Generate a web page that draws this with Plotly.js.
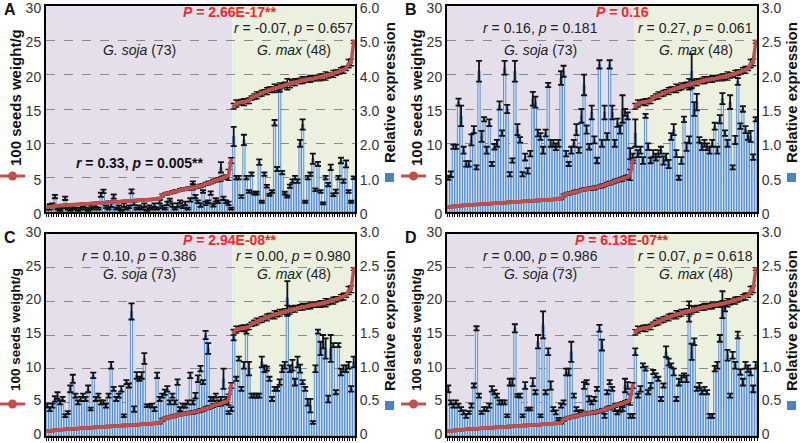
<!DOCTYPE html>
<html>
<head>
<meta charset="utf-8">
<script src="https://cdn.plot.ly/plotly-3.0.1.min.js"></script>
<style>
  body { margin: 0; background: #fff; }
  #plot { width: 800px; height: 443px; }
</style>
</head>
<body>
<div id="plot"></div>
<script>
// ---- 百粒重 (g), 野生豆 G. soja 73 份, 栽培豆 G. max 48 份, 各自由小到大排序 ----
const sojaWeight = [0.7,0.78,0.8,0.86,0.9,0.93,0.95,0.99,1.0,1.03,
  1.06,1.08,1.1,1.14,1.15,1.18,1.21,1.22,1.26,1.28,
  1.3,1.34,1.35,1.38,1.41,1.43,1.46,1.48,1.5,1.54,
  1.55,1.58,1.61,1.63,1.66,1.68,1.7,1.74,1.75,1.79,
  1.8,1.84,1.86,1.9,1.96,
  2.4,2.6,2.7,2.8,2.9,3.0,3.1,3.2,3.3,3.35,
  3.4,3.45,3.5,3.6,3.7,3.8,3.9,4.1,4.2,4.3,
  4.5,4.6,4.7,4.8,5.0,5.1,5.4,7.5];
const sojaWeightErr = [0.1,0.1,0.15,0.1,0.1,0.12,0.1,0.1,0.15,0.1,
  0.1,0.12,0.1,0.1,0.15,0.1,0.12,0.1,0.1,0.15,
  0.1,0.1,0.12,0.1,0.15,0.1,0.1,0.12,0.1,0.1,
  0.15,0.1,0.12,0.1,0.1,0.15,0.1,0.12,0.1,0.1,
  0.15,0.1,0.12,0.1,0.15,
  0.2,0.15,0.2,0.15,0.2,0.2,0.15,0.2,0.2,0.15,
  0.2,0.2,0.25,0.2,0.2,0.25,0.2,0.2,0.25,0.2,
  0.25,0.2,0.25,0.3,0.25,0.3,0.8,0.4];
const maxWeight = [15.4,15.8,15.9,16.0,16.0,16.1,16.2,16.6,16.8,17.0,
  17.1,17.3,17.5,17.6,17.8,17.9,18.0,18.1,18.3,18.4,
  18.5,18.6,18.7,18.8,18.9,19.0,19.1,19.2,19.2,19.3,
  19.4,19.4,19.5,19.6,19.6,19.7,19.8,19.9,20.0,20.1,
  20.3,20.4,20.6,20.7,20.9,21.6,21.8,24.8];
const maxWeightErr = [0.4,0.5,0.3,0.4,0.5,0.3,0.4,0.3,0.4,0.5,
  0.3,0.4,0.3,0.5,0.4,0.3,0.6,0.4,0.5,0.3,
  0.4,0.8,0.6,0.4,0.5,0.3,0.4,0.5,0.3,0.4,
  0.5,0.3,0.4,0.3,0.5,0.4,0.6,0.4,0.3,0.5,
  0.4,0.3,0.4,0.5,0.3,0.6,0.5,0.2];

// ---- 相對表現量 (四個基因, A-D) ----
const exprSojaA = [0.1,0.15,0.2,0.45,0.1,0.05,0.15,0.4,0.1,0.05,
  0.15,0.1,0.05,0.1,0.2,0.1,0.05,0.15,0.1,0.2,
  0.1,0.5,0.6,0.15,0.1,0.2,0.45,0.1,0.15,0.05,
  0.2,0.1,0.15,0.6,0.25,0.1,0.15,0.1,0.2,0.05,
  0.15,0.1,0.2,0.1,0.3,0.15,0.1,0.25,0.35,0.2,
  0.1,0.2,0.3,0.15,0.25,0.1,0.35,0.85,0.45,0.3,
  0.2,0.6,0.25,0.3,0.55,0.2,0.35,0.3,1.3,0.4,
  0.3,0.25,0.1];
const errSojaA = [0.03,0.08,0.05,0.05,0.03,0.02,0.04,0.05,0.03,0.02,
  0.04,0.03,0.02,0.03,0.05,0.03,0.02,0.04,0.03,0.05,
  0.03,0.06,0.05,0.04,0.03,0.05,0.06,0.03,0.04,0.02,
  0.05,0.03,0.04,0.06,0.05,0.03,0.04,0.03,0.05,0.02,
  0.04,0.03,0.05,0.03,0.05,0.04,0.03,0.05,0.04,0.05,
  0.03,0.05,0.04,0.04,0.05,0.03,0.05,0.04,0.05,0.04,
  0.05,0.04,0.05,0.04,0.05,0.04,0.05,0.04,0.15,0.05,
  0.04,0.05,0.03];
const exprMaxA = [2.2,1.0,1.0,0.45,2.1,1.0,0.6,1.1,0.55,0.55,
  1.45,0.3,1.1,0.75,0.5,0.6,2.6,1.25,3.6,1.15,
  0.55,0.45,0.75,0.9,1.0,0.9,2.0,2.55,0.3,1.0,
  1.1,1.55,0.65,1.4,0.6,0.25,1.0,0.8,1.3,0.5,
  0.6,1.0,1.5,0.9,1.4,0.6,0.3,1.0];
const errMaxA = [0.28,0.05,0.05,0.04,0.15,0.05,0.04,0.05,0.04,0.04,
  0.08,0.03,0.05,0.04,0.03,0.04,0.08,0.06,0.1,0.05,
  0.04,0.03,0.05,0.05,0.05,0.05,0.1,0.15,0.03,0.05,
  0.05,0.15,0.04,0.06,0.04,0.03,0.05,0.05,0.08,0.04,
  0.05,0.05,0.08,0.05,0.1,0.04,0.03,0.04];

const exprSojaB = [0.5,0.55,0.95,0.95,1.6,1.4,0.9,0.7,0.7,1.05,
  1.2,0.65,2.05,1.1,1.35,0.9,1.3,0.7,0.95,1.0,
  1.55,1.15,2.1,1.5,0.55,0.75,2.05,1.2,1.05,0.55,
  0.8,0.6,0.85,1.65,1.6,1.15,1.1,0.9,1.15,1.85,
  1.0,1.0,0.95,1.0,1.95,2.05,0.85,0.7,0.9,1.0,
  1.2,0.9,1.4,1.85,1.2,0.95,1.45,1.05,0.75,2.15,
  1.0,1.45,1.1,2.15,1.45,1.0,1.3,1.2,1.5,1.45,
  1.4,0.85,0.8];
const errSojaB = [0.03,0.04,0.03,0.03,0.05,0.15,0.05,0.04,0.04,0.08,
  0.05,0.03,0.15,0.08,0.03,0.05,0.05,0.03,0.04,0.05,
  0.06,0.04,0.1,0.06,0.03,0.03,0.15,0.08,0.04,0.03,
  0.05,0.04,0.04,0.1,0.08,0.05,0.05,0.05,0.05,0.03,
  0.05,0.05,0.05,0.05,0.1,0.08,0.04,0.03,0.05,0.05,
  0.08,0.04,0.1,0.15,0.06,0.04,0.1,0.05,0.04,0.06,
  0.05,0.1,0.05,0.06,0.1,0.05,0.06,0.06,0.2,0.05,
  0.05,0.08,0.05];
const exprMaxB = [1.15,0.85,0.9,0.75,1.4,0.95,0.75,0.85,0.8,0.85,
  0.9,0.75,0.8,0.7,1.1,1.2,0.85,0.5,0.75,1.35,
  0.95,1.05,2.05,1.5,1.6,1.05,0.95,1.0,0.95,0.9,
  1.0,1.25,0.9,1.35,1.65,1.15,1.0,1.6,0.65,1.05,
  1.9,1.25,1.5,1.2,1.1,1.1,0.8,1.35];
const errMaxB = [0.2,0.05,0.05,0.05,0.03,0.05,0.04,0.05,0.05,0.05,
  0.05,0.06,0.05,0.06,0.05,0.08,0.05,0.03,0.05,0.04,
  0.06,0.05,0.25,0.1,0.12,0.04,0.05,0.05,0.05,0.05,
  0.05,0.05,0.05,0.06,0.08,0.04,0.05,0.1,0.03,0.06,
  0.05,0.04,0.04,0.05,0.05,0.08,0.04,0.03];

const exprSojaC = [0.45,0.4,0.45,0.55,0.6,0.5,0.55,0.3,0.35,0.7,
  0.85,0.6,0.5,0.55,0.6,0.55,0.7,0.4,0.9,0.55,
  0.6,0.5,0.5,0.45,0.6,1.05,0.7,0.55,0.6,0.7,
  0.3,0.8,0.75,1.85,0.4,0.9,0.85,0.9,1.15,0.45,
  0.45,0.45,0.4,0.9,0.55,0.6,0.65,0.7,0.5,0.6,
  0.5,0.8,0.4,0.45,0.45,0.5,0.9,0.5,0.6,0.85,
  1.0,0.8,1.5,1.3,0.55,0.55,0.6,0.5,0.55,0.85,
  0.55,0.35,0.4];
const errSojaC = [0.03,0.03,0.03,0.04,0.05,0.03,0.03,0.02,0.02,0.05,
  0.06,0.03,0.03,0.03,0.03,0.03,0.05,0.02,0.04,0.03,
  0.03,0.03,0.03,0.03,0.03,0.05,0.03,0.03,0.03,0.04,
  0.02,0.03,0.03,0.12,0.04,0.05,0.03,0.05,0.08,0.02,
  0.02,0.03,0.03,0.04,0.03,0.03,0.04,0.04,0.03,0.03,
  0.03,0.04,0.03,0.03,0.03,0.03,0.04,0.03,0.04,0.05,
  0.04,0.03,0.06,0.08,0.03,0.03,0.03,0.03,0.03,0.15,
  0.03,0.02,0.03];
const exprMaxC = [1.5,0.85,1.15,0.7,1.05,1.55,1.0,0.6,0.6,0.6,
  0.6,1.1,1.0,1.0,0.85,0.55,0.7,0.7,0.8,1.0,
  1.05,2.05,1.0,1.05,0.8,1.1,1.0,0.8,0.7,0.5,
  0.45,0.2,1.0,1.55,1.3,1.4,1.3,0.55,1.3,1.35,
  0.65,1.35,0.95,1.0,1.0,1.05,0.7,1.1];
const errMaxC = [0.08,0.03,0.03,0.03,0.05,0.03,0.1,0.03,0.03,0.03,
  0.03,0.08,0.05,0.03,0.03,0.03,0.03,0.03,0.04,0.05,
  0.05,0.25,0.05,0.08,0.05,0.08,0.06,0.03,0.03,0.05,
  0.1,0.02,0.05,0.03,0.1,0.1,0.15,0.05,0.2,0.03,
  0.03,0.03,0.05,0.05,0.05,0.05,0.04,0.08];

const exprSojaD = [0.7,0.5,0.45,0.5,0.45,0.4,0.35,0.3,0.35,0.45,
  0.75,1.6,0.6,0.35,0.4,0.4,0.45,0.7,0.65,0.6,
  0.5,0.5,0.5,0.3,0.8,0.8,1.6,0.6,0.6,0.3,
  0.75,0.4,0.4,0.8,0.65,1.4,0.3,1.65,0.65,1.25,
  0.75,0.4,0.35,0.25,0.45,0.5,0.95,0.95,1.25,0.6,
  0.4,0.35,0.35,0.75,0.8,0.55,0.5,0.55,0.7,1.6,
  1.35,0.3,0.65,0.8,0.7,0.4,0.35,0.4,0.4,0.75,
  0.75,0.3,0.3];
const errSojaD = [0.05,0.03,0.03,0.03,0.03,0.03,0.03,0.03,0.02,0.03,
  0.03,0.03,0.03,0.02,0.03,0.03,0.03,0.04,0.03,0.03,
  0.03,0.03,0.03,0.02,0.05,0.05,0.06,0.02,0.03,0.02,
  0.05,0.02,0.02,0.06,0.03,0.1,0.02,0.2,0.03,0.05,
  0.06,0.03,0.03,0.02,0.03,0.03,0.05,0.05,0.15,0.03,
  0.03,0.03,0.03,0.05,0.03,0.04,0.03,0.03,0.03,0.05,
  0.08,0.03,0.03,0.03,0.03,0.03,0.03,0.04,0.03,0.1,
  0.05,0.03,0.03];
const exprMaxD = [1.25,0.6,0.7,1.05,1.0,0.65,0.75,0.95,0.9,0.85,
  0.55,0.75,1.25,1.1,1.05,0.95,0.55,0.8,0.85,0.9,
  0.85,1.85,1.25,1.4,0.7,0.75,0.65,0.7,0.65,0.3,
  0.3,1.0,1.05,1.45,1.95,1.9,1.2,0.6,1.2,1.05,
  1.5,0.95,0.8,1.05,1.0,0.95,0.7,1.05];
const errMaxD = [0.05,0.03,0.04,0.03,0.03,0.03,0.04,0.03,0.03,0.03,
  0.03,0.03,0.08,0.05,0.03,0.05,0.03,0.05,0.05,0.03,
  0.05,0.15,0.12,0.05,0.03,0.04,0.03,0.03,0.03,0.03,
  0.03,0.04,0.05,0.05,0.2,0.05,0.08,0.03,0.05,0.05,
  0.05,0.04,0.05,0.05,0.05,0.05,0.05,0.05];

// ---- 文字 ----
const panelLetters = ['A', 'B', 'C', 'D'];
const groupP = ['2.66E-17**', '0.16', '2.94E-08**', '6.13E-07**'];
const sojaR = ['0.33', '0.16', '0.10', '0.00'];
const sojaP = ['0.005**', '0.181', '0.386', '0.986'];
const maxR = ['-0.07', '0.27', '0.00', '0.07'];
const maxP = ['0.657', '0.061', '0.980', '0.618'];
const exprTop = [6, 3, 3, 3];
const exprTicksA = ['0', '1.0', '2.0', '3.0', '4.0', '5.0', '6.0'];
const exprTicksBCD = ['0', '0.5', '1.0', '1.5', '2.0', '2.5', '3.0'];
const weightTicks = [0, 5, 10, 15, 20, 25, 30];

const exprSoja = [exprSojaA, exprSojaB, exprSojaC, exprSojaD];
const exprMax = [exprMaxA, exprMaxB, exprMaxC, exprMaxD];
const errSoja = [errSojaA, errSojaB, errSojaC, errSojaD];
const errMax = [errMaxA, errMaxB, errMaxC, errMaxD];

// 版面（像素）
const W = 800, H = 443;
const boxes = [
  { l: 46, r: 355, t: 6, b: 212 },
  { l: 447, r: 757, t: 6, b: 212 },
  { l: 46, r: 355, t: 234, b: 436 },
  { l: 447, r: 757, t: 234, b: 436 }
];
const FONT = 'Liberation Sans, Arial, Helvetica, sans-serif';
const LINE_RED = '#c0504d';
const BAR_BLUE = '#4f81bd';
const P_RED = '#ee2a2a';
const TICK_FONT = { family: FONT, size: 14, color: '#333' };

const px = x => x / W;
const py = y => 1 - y / H;

const nSoja = sojaWeight.length;
const nAll = nSoja + maxWeight.length;
const xSoja = sojaWeight.map((_, i) => i);
const xMax = maxWeight.map((_, i) => nSoja + i);
const xAll = xSoja.concat(xMax);

const traces = [];
const shapes = [];
const annotations = [];
const layout = {
  width: W, height: H,
  margin: { l: 0, r: 0, t: 0, b: 0 },
  paper_bgcolor: '#fff',
  plot_bgcolor: 'rgba(0,0,0,0)',
  showlegend: false,
  bargap: 0.12,
  font: { family: FONT, size: 14, color: '#222' }
};

boxes.forEach((box, i) => {
  const n = i + 1;
  const xName = n === 1 ? 'x' : 'x' + n;
  const yBar = n === 1 ? 'y' : 'y' + (2 * n - 1);
  const yLine = 'y' + (2 * n);
  const xKey = n === 1 ? 'xaxis' : 'xaxis' + n;
  const yBarKey = n === 1 ? 'yaxis' : 'yaxis' + (2 * n - 1);
  const yLineKey = 'yaxis' + (2 * n);
  const domX = [px(box.l), px(box.r)];
  const domY = [py(box.b), py(box.t)];
  const top = exprTop[i];
  const ticks = i === 0 ? exprTicksA : exprTicksBCD;
  const tickVals = ticks.map(t => parseFloat(t));
  const upper = i < 2;
  // 上排刻度字下移、下排上移，避免超出畫面邊緣
  const labelShift = upper ? 2 : -2;

  // 表現量長條（右軸）
  traces.push({
    type: 'bar',
    x: xAll,
    y: exprSoja[i].concat(exprMax[i]),
    xaxis: xName, yaxis: yBar,
    marker: { color: '#d4e3f5', line: { color: '#3f7fc6', width: 0.8 } },
    error_y: { type: 'data', array: errSoja[i].concat(errMax[i]), color: '#111', thickness: 1.8, width: 3 },
    hoverinfo: 'skip'
  });

  // 百粒重折線（左軸）
  [[xSoja, sojaWeight, sojaWeightErr], [xMax, maxWeight, maxWeightErr]].forEach(([xs, ys, es]) => {
    traces.push({
      type: 'scatter', mode: 'lines+markers',
      x: xs, y: ys,
      xaxis: xName, yaxis: yLine,
      line: { color: LINE_RED, width: 3.5 },
      marker: { color: LINE_RED, size: 4 },
      error_y: { type: 'data', array: es, color: '#111', thickness: 1.4, width: 3 },
      hoverinfo: 'skip'
    });
  });

  layout[xKey] = {
    domain: domX, anchor: yBar,
    range: [-0.5, nAll - 0.5],
    showline: true, mirror: true, linecolor: '#000', linewidth: 2,
    ticks: 'outside', ticklen: 3, tickwidth: 1, tickcolor: '#000',
    tickmode: 'linear', tick0: -0.5, dtick: 1,
    showticklabels: false, showgrid: false, zeroline: false
  };
  layout[yBarKey] = {
    domain: domY, anchor: xName, side: 'right',
    range: [0, top],
    tickmode: 'array', tickvals: tickVals, ticktext: ticks,
    ticklabeloverflow: 'allow', ticklabelshift: labelShift,
    showline: true, linecolor: '#000', linewidth: 2,
    showgrid: true, gridcolor: '#8a8a8a', griddash: 'dash', gridwidth: 1,
    zeroline: false, ticks: '',
    tickfont: TICK_FONT
  };
  layout[yLineKey] = {
    domain: domY, anchor: xName, overlaying: yBar, side: 'left',
    range: [0, 30],
    tickmode: 'array', tickvals: weightTicks,
    ticklabeloverflow: 'allow', ticklabelshift: labelShift,
    showline: true, linecolor: '#000', linewidth: 2,
    showgrid: false, zeroline: false, ticks: '',
    tickfont: TICK_FONT
  };

  // 背景：野生豆（紫）與栽培豆（綠）
  const yRef = yBar + ' domain';
  shapes.push({ type: 'rect', layer: 'below', xref: xName, yref: yRef,
    x0: -0.5, x1: nSoja - 0.5, y0: 0, y1: 1, fillcolor: '#e5dfec', line: { width: 0 } });
  shapes.push({ type: 'rect', layer: 'below', xref: xName, yref: yRef,
    x0: nSoja - 0.5, x1: nAll - 0.5, y0: 0, y1: 1, fillcolor: '#ebf1de', line: { width: 0 } });

  // 圖例小記號
  const ly = box.t + 170;
  shapes.push({ type: 'line', xref: 'paper', yref: 'paper',
    x0: px(box.l - 46), x1: px(box.l - 21), y0: py(ly), y1: py(ly),
    line: { color: LINE_RED, width: 3 } });
  shapes.push({ type: 'circle', xref: 'paper', yref: 'paper',
    x0: px(box.l - 38), x1: px(box.l - 29), y0: py(ly - 4.5), y1: py(ly + 4.5),
    fillcolor: LINE_RED, line: { width: 0 } });
  shapes.push({ type: 'rect', xref: 'paper', yref: 'paper',
    x0: px(box.r + 30), x1: px(box.r + 39), y0: py(box.t + 176), y1: py(box.t + 167),
    fillcolor: BAR_BLUE, line: { width: 0 } });

  // 文字
  const rY = box.t + 22;
  const gY = box.t + (upper ? 44 : 40);
  const sojaMid = (nSoja - 1) / 2;
  const maxMid = nSoja + (maxWeight.length - 1) / 2;
  const txt = (x, y, text, extra) => Object.assign({
    x, y, text, showarrow: false, xanchor: 'center', yanchor: 'middle',
    font: { family: FONT, size: 14, color: '#222' }
  }, extra || {});

  annotations.push(txt(px(box.l - 44), py(box.t + 3), '<b>' + panelLetters[i] + '</b>',
    { xref: 'paper', yref: 'paper', xanchor: 'left', font: { family: FONT, size: 16, color: '#111' } }));
  annotations.push(txt(px(box.l + (i % 2 === 0 ? 184 : 175)), py(box.t + 6),
    '<b><i>P</i> = ' + groupP[i] + '</b>',
    { xref: 'paper', yref: 'paper', font: { family: FONT, size: 14, color: P_RED } }));
  if (i === 0) {
    annotations.push(txt(sojaMid, py(box.t + 157),
      '<b><i>r</i> = ' + sojaR[i] + ', <i>p</i> = ' + sojaP[i] + '</b>',
      { xref: xName, yref: 'paper', font: { family: FONT, size: 14, color: '#111' } }));
  } else {
    annotations.push(txt(sojaMid, py(rY), '<i>r</i> = ' + sojaR[i] + ', <i>p</i> = ' + sojaP[i],
      { xref: xName, yref: 'paper' }));
  }
  annotations.push(txt(maxMid, py(rY), '<i>r</i> = ' + maxR[i] + ', <i>p</i> = ' + maxP[i],
    { xref: xName, yref: 'paper' }));
  annotations.push(txt(sojaMid, py(gY), '<i>G. soja</i> (' + nSoja + ')', { xref: xName, yref: 'paper' }));
  annotations.push(txt(maxMid, py(gY), '<i>G. max</i> (' + maxWeight.length + ')', { xref: xName, yref: 'paper' }));

  // 軸標題
  annotations.push(txt(px(box.l - 31), py(box.t + (upper ? 92 : 96)), '<b>100 seeds weight/g</b>',
    { xref: 'paper', yref: 'paper', textangle: -90,
      font: { family: FONT, size: upper ? 15 : 13.5, color: '#111' } }));
  annotations.push(txt(px(box.r + 34), py(box.t + 87), '<b>Relative expression</b>',
    { xref: 'paper', yref: 'paper', textangle: -90, font: { family: FONT, size: 15, color: '#111' } }));
});

layout.shapes = shapes;
layout.annotations = annotations;

Plotly.newPlot('plot', traces, layout, { displayModeBar: false, staticPlot: true });
</script>
</body>
</html>
